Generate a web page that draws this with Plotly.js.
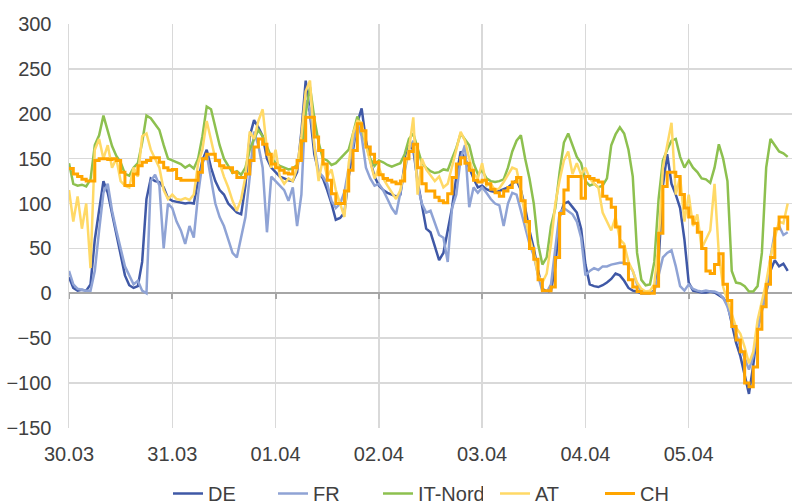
<!DOCTYPE html>
<html><head><meta charset="utf-8">
<script src="https://cdn.plot.ly/plotly-3.0.1.min.js"></script>
<style>html,body{margin:0;padding:0;background:#fff}#chart{width:792px;height:504px}</style>
</head><body><div id="chart"></div>
<script>
const seriesNames = ['DE', 'FR', 'IT-Nord', 'AT', 'CH'];
const tickLabels = ['30.03', '31.03', '01.04', '02.04', '03.04', '04.04', '05.04'];

// hourly prices, 30.03 00:00 .. 05.04 23:00
const DE = [
18, 6, 3, 4, 3, 10, 60, 95, 125, 112, 88, 65, 40, 20, 9, 6, 8, 35, 105, 128, 125, 124, 118, 106,
103, 102, 101, 100, 101, 100, 125, 148, 160, 140, 125, 115, 110, 100, 95, 90, 88, 120, 175, 193, 185, 175, 150, 140,
135, 130, 128, 126, 125, 135, 180, 237, 200, 155, 135, 128, 115, 100, 82, 84, 90, 130, 160, 190, 206, 170, 148, 130,
120, 115, 112, 110, 108, 110, 145, 165, 160, 125, 100, 72, 68, 52, 37, 45, 70, 95, 130, 158, 150, 140, 128, 118,
120, 116, 114, 113, 114, 116, 118, 122, 126, 115, 95, 70, 50, 25, 5, 2, 3, 30, 85, 100, 102, 96, 90, 72,
32, 10, 8, 7, 9, 12, 16, 22, 20, 14, 6, 3, 2, 0, 0, 0, 3, 35, 120, 155, 122, 110, 95, 60,
12, 3, 2, 1, 1, 2, 1, -2, -5, -12, -35, -55, -70, -90, -112, -80, -40, -18, 0, 25, 37, 30, 33, 25
];
const FR = [
25, 10, 5, 4, 3, 3, 25, 70, 112, 122, 92, 70, 50, 30, 20, 10, 14, 3, 0, 125, 132, 120, 50, 100,
95, 80, 70, 55, 75, 62, 110, 145, 155, 125, 100, 85, 75, 60, 45, 40, 62, 85, 130, 180, 165, 140, 68, 130,
125, 120, 115, 103, 118, 75, 110, 215, 205, 165, 135, 130, 122, 103, 95, 100, 113, 140, 165, 190, 175, 140, 128, 120,
122, 115, 105, 95, 88, 112, 135, 160, 170, 120, 100, 90, 92, 78, 65, 62, 35, 95, 110, 150, 165, 96, 118, 112,
118, 112, 105, 100, 98, 75, 100, 112, 110, 92, 75, 55, 42, 20, 2, 1, 10, 50, 90, 95, 92, 88, 80, 62,
20, 25, 28, 26, 30, 30, 32, 33, 34, 34, 32, 25, 10, 2, 1, 1, 2, 20, 40, 45, 48, 30, 8, 3,
10, 5, 3, 2, 3, 2, 2, 0, -5, -15, -30, -45, -60, -72, -85, -70, -40, -20, 2, 40, 68, 75, 65, 68
];
const IT_NORD = [
145, 122, 120, 121, 119, 127, 165, 176, 198, 180, 164, 153, 146, 133, 131, 140, 145, 168, 198, 195, 188, 182, 165, 150,
148, 146, 144, 140, 143, 139, 150, 175, 208, 205, 185, 165, 150, 142, 134, 136, 132, 140, 160, 172, 182, 175, 163, 152,
145, 142, 140, 138, 139, 143, 160, 200, 230, 195, 168, 150, 148, 143, 145, 150, 155, 160, 178, 197, 185, 165, 150, 142,
148, 146, 143, 141, 143, 145, 155, 172, 178, 160, 145, 140, 136, 134, 135, 138, 137, 150, 162, 178, 172, 165, 145, 133,
137, 128, 125, 124, 125, 127, 140, 158, 170, 176, 150, 128, 100, 55, 32, 40, 75, 95, 135, 168, 178, 165, 152, 145,
125, 120, 122, 118, 120, 128, 165, 177, 185, 178, 160, 130, 45, 15, 9, 10, 35, 105, 148, 160, 170, 172, 152, 140,
148, 140, 135, 128, 127, 123, 140, 166, 150, 125, 25, 12, 11, 8, 2, 2, 8, 45, 140, 172, 165, 158, 156, 152
];
const AT = [
115, 80, 108, 72, 100, 28, 160, 172, 150, 165, 140, 150, 125, 120, 118, 140, 130, 175, 178, 160, 150, 140, 115, 105,
110, 105, 104, 106, 104, 110, 145, 160, 192, 170, 150, 145, 130, 118, 103, 92, 105, 130, 180, 172, 192, 205, 160, 140,
160, 130, 122, 128, 125, 140, 175, 225, 237, 165, 125, 150, 130, 138, 115, 100, 85, 145, 178, 192, 190, 165, 145, 128,
140, 128, 120, 112, 105, 115, 140, 160, 196, 110, 150, 138, 132, 125, 130, 118, 122, 140, 160, 180, 170, 150, 133, 128,
145, 120, 122, 115, 117, 124, 132, 140, 138, 115, 85, 62, 45, 20, 12, 22, 55, 100, 126, 148, 158, 133, 145, 132,
140, 128, 122, 118, 90, 80, 70, 85, 60, 55, 35, 25, 12, 5, 2, 3, 10, 55, 140, 165, 190, 110, 130, 80,
110, 75, 88, 50, 60, 70, 122, 44, 7, -8, -22, -38, -45, -60, -78, -65, -30, -10, 12, 40, 62, 80, 78, 100
];
const CH = [
139, 133, 130, 127, 125, 125, 148, 150, 150, 149, 150, 148, 135, 120, 120, 133, 142, 146, 148, 151, 151, 146, 140, 137,
138, 128, 126, 126, 126, 126, 135, 150, 155, 155, 148, 142, 140, 140, 135, 129, 129, 133, 148, 163, 172, 166, 155, 144,
140, 137, 134, 133, 140, 148, 170, 196, 196, 174, 159, 144, 126, 111, 100, 100, 114, 137, 159, 189, 181, 163, 155, 146,
132, 128, 126, 124, 122, 125, 150, 158, 166, 140, 122, 114, 114, 107, 103, 101, 111, 129, 144, 151, 145, 137, 126, 124,
126, 122, 116, 112, 108, 114, 118, 124, 129, 103, 80, 50, 38, 15, 3, 3, 7, 40, 89, 115, 130, 130, 130, 106,
130, 128, 126, 124, 108, 105, 96, 74, 52, 33, 15, 7, 2, 0, 0, 0, 8, 67, 119, 135, 135, 130, 110, 95,
85, 78, 68, 50, 25, 22, 32, 44, 10, -8, -37, -52, -65, -100, -104, -82, -40, -15, 10, 40, 72, 85, 85, 70
];

const seriesValues = [DE, FR, IT_NORD, AT, CH];
const colors = ['#3F58A6', '#8FA3D5', '#8DC04F', '#FFD966', '#FFA500'];
const widths = [2.5, 2.5, 2.5, 2.5, 3];
const shapes = ['linear', 'linear', 'linear', 'linear', 'hv'];
const legendOf = ['legend', 'legend', 'legend', 'legend2', 'legend2'];

function ts(i) {
  const d = new Date(Date.UTC(2024, 2, 30, 0, 0) + i * 3600000);
  return d.toISOString().slice(0, 16).replace('T', ' ');
}
const xs = DE.map((_, i) => ts(i));
const tickVals = tickLabels.map((_, k) => ts(k * 24));
const xRange = [ts(0), ts(168)];

const traces = seriesNames.map((name, k) => ({
  type: 'scatter', mode: 'lines', name: name,
  x: xs, y: seriesValues[k], legend: legendOf[k],
  line: {color: colors[k], width: widths[k], shape: shapes[k]},
  hoverinfo: 'skip'
}));
traces.unshift({type: 'scatter', mode: 'lines', x: [], y: [], xaxis: 'x2', showlegend: false, hoverinfo: 'skip'});

const legendBase = {orientation: 'h', xref: 'container', yref: 'container', y: 1 - 474 / 504,
  xanchor: 'left', yanchor: 'top', entrywidth: 60, font: {size: 20, color: '#404040'},
  bgcolor: 'rgba(0,0,0,0)'};

const layout = {
  width: 792, height: 504,
  margin: {l: 69, r: 0, t: 24, b: 76, pad: 0},
  paper_bgcolor: '#ffffff', plot_bgcolor: '#ffffff',
  font: {family: 'Liberation Sans, Arial, sans-serif', size: 20, color: '#404040'},
  showlegend: true,
  legend: Object.assign({}, legendBase, {x: 168 / 792}),
  legend2: Object.assign({}, legendBase, {x: 495 / 792}),
  xaxis: {type: 'date', range: xRange, tickmode: 'array', tickvals: tickVals, ticktext: tickLabels,
          showgrid: true, gridcolor: '#d9d9d9', gridwidth: 1.5, zeroline: false, showline: false,
          ticks: 'outside', ticklen: 8, tickcolor: 'rgba(0,0,0,0)', tickfont: {size: 20, color: '#404040'}},
  xaxis2: {type: 'date', overlaying: 'x', anchor: 'free', position: 1 / 3, side: 'bottom', range: xRange,
           tickmode: 'array', tickvals: tickVals, showticklabels: false, showgrid: false, zeroline: false,
           showline: true, linecolor: '#a6a6a6', linewidth: 2, ticks: 'outside', ticklen: 5,
           tickwidth: 2, tickcolor: '#a6a6a6', layer: 'below traces'},
  yaxis: {range: [-150, 300], tickmode: 'linear', tick0: 0, dtick: 50, showgrid: true, gridcolor: '#d9d9d9',
          gridwidth: 1.5, zeroline: false, showline: true, linecolor: '#d9d9d9', linewidth: 1.5,
          ticks: 'outside', ticklen: 12, tickcolor: 'rgba(0,0,0,0)', tickfont: {size: 20, color: '#404040'}}
};

Plotly.newPlot('chart', traces, layout, {staticPlot: true, displayModeBar: false});
</script>
</body></html>
